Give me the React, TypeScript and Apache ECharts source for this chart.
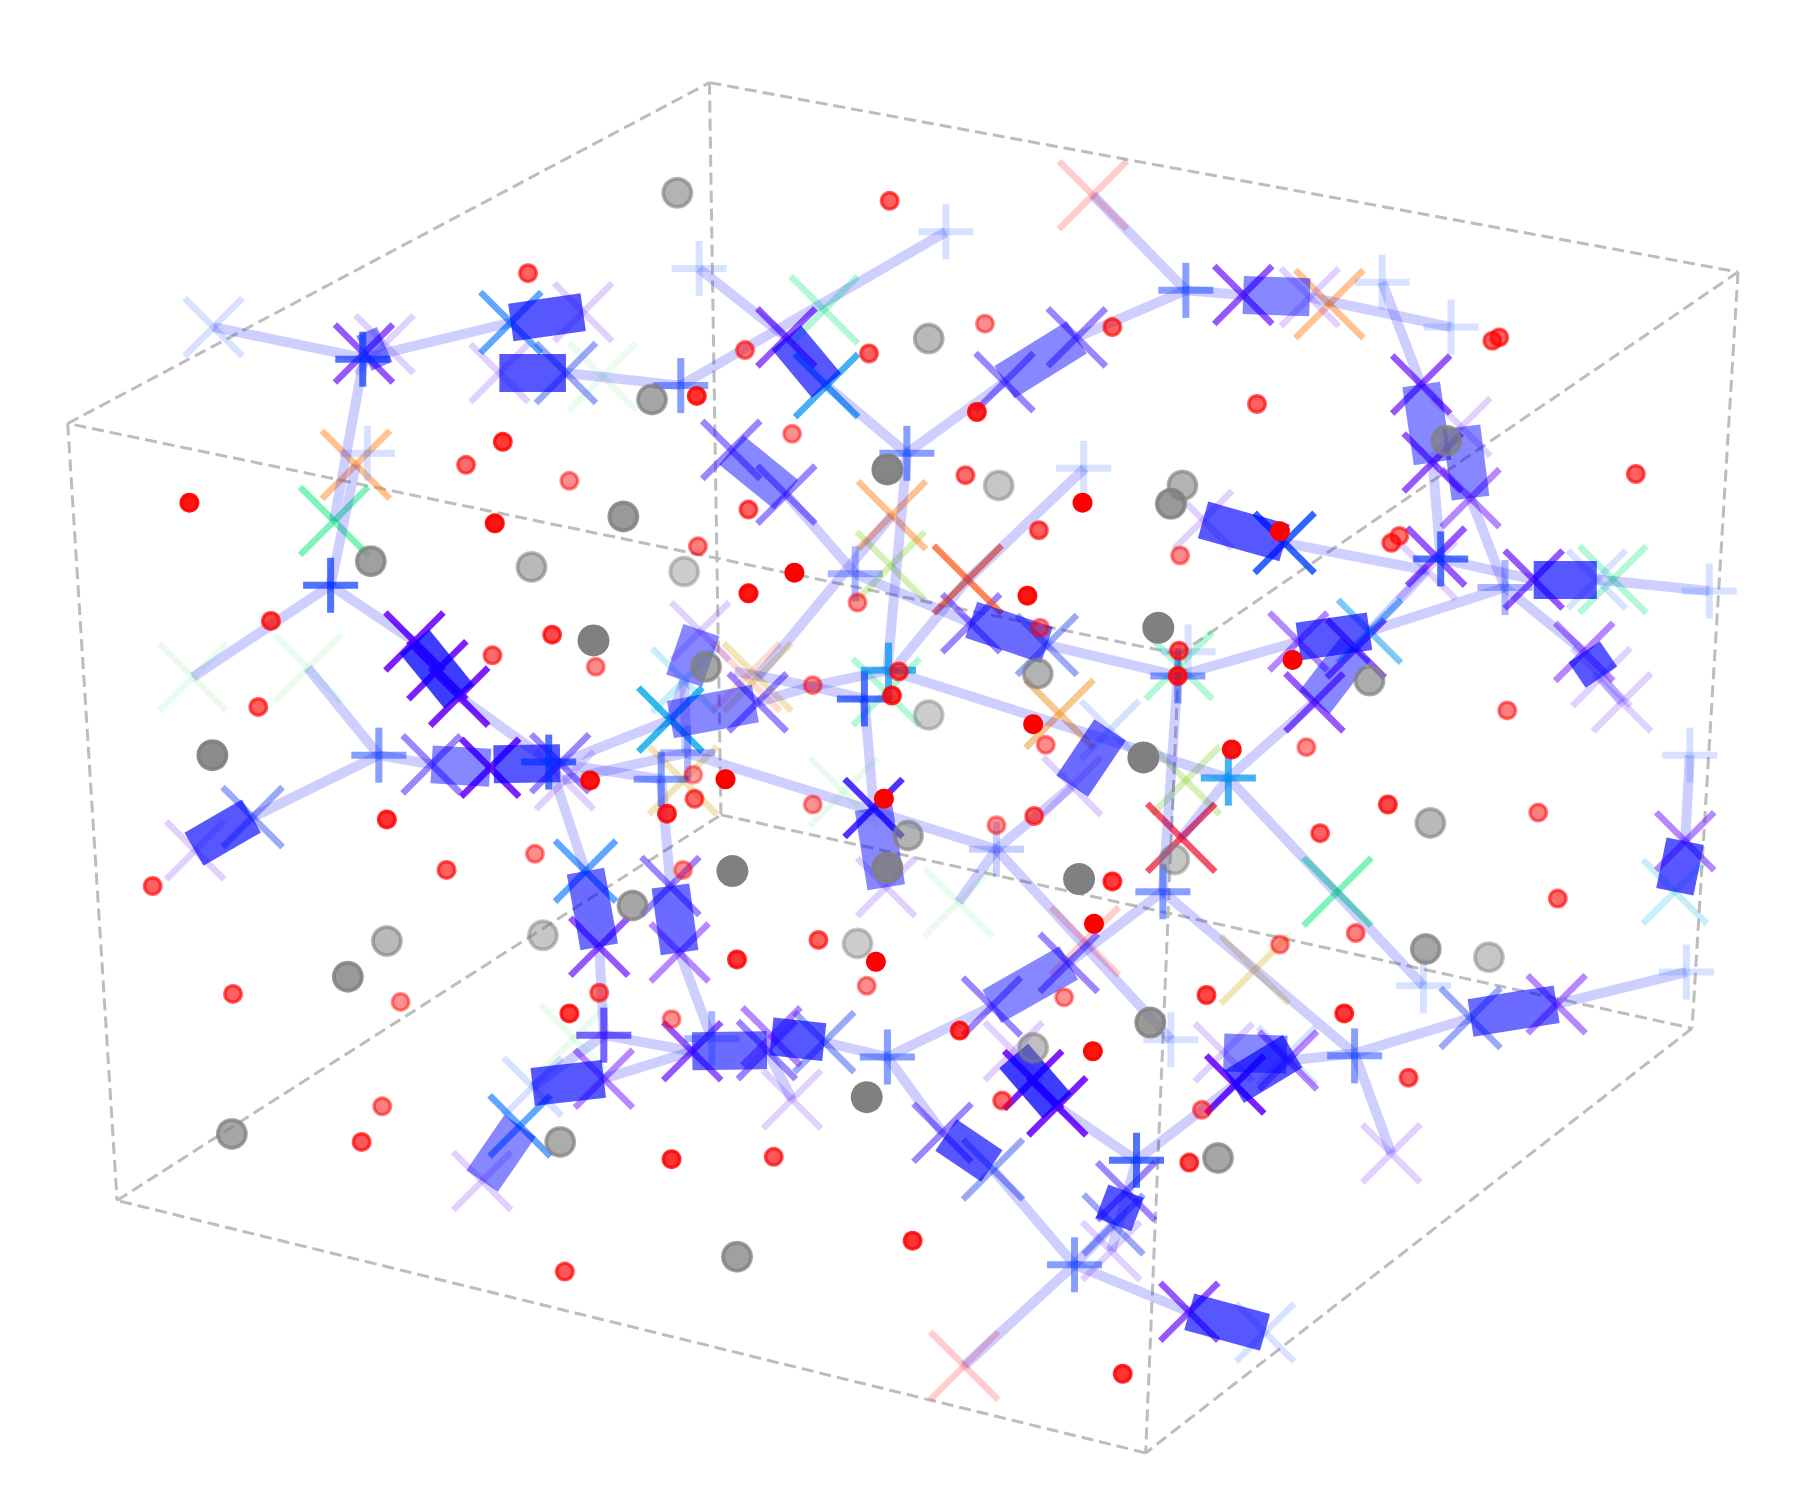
import React, { useEffect, useRef } from "react";
import * as echarts from "echarts";

type P = number[];

// Box edges
const boxCorners: Record<string, P> = { A: [59, 369], B: [618, 72], C: [1514, 237], D: [1027, 570], E: [102, 1046], F: [628, 710], G: [1474, 896], H: [998, 1266] };
const boxEdges = ["AB", "BC", "CD", "DA", "EF", "FG", "GH", "HE", "AE", "BF", "CG", "DH"];

// Thin links
const links: P[] = [
  [186,285,317,312],[317,312,445,281],[317,312,291,454],[310,405,288,510],[288,510,168,590],[288,510,361,559],[400,607,478,663],
  [268,582,330,658],[330,658,220,712],[330,658,376,666],[488,665,584,627],[478,663,510,759],[522,825,526,902],[526,902,603,916],
  [526,902,464,947],[526,940,603,916],[592,830,620,905],[584,772,576,679],[478,664,576,679],[490,680,598,656],[598,656,868,740],
  [493,325,593,336],[593,336,824,202],[609,234,685,294],[720,336,790,395],[790,395,875,333],[938,294,1033,253],[1033,253,1083,257],
  [952,170,1033,253],[1141,259,1264,285],[1204,246,1238,335],[1248,403,1255,487],[1281,434,1311,512],[1119,473,1243,497],[1255,487,1336,505],
  [1311,512,1380,568],[1395,590,1413,612],[1391,505,1489,515],[1311,512,1193,550],[1193,550,1243,497],[1131,559,1026,589],[1145,612,1070,678],
  [1070,678,1029,730],[1026,589,1013,777],[1070,678,1240,859],[912,562,1026,589],[846,543,745,500],[685,431,745,500],[790,395,773,584],
  [777,449,660,590],[945,408,843,505],[843,505,773,590],[774,584,707,598],[707,598,660,612],[753,609,707,598],[707,598,640,585],[753,609,761,704],[774,584,1070,678],
  [868,740,934,685],[868,740,835,786],[868,740,1020,906],[1013,777,931,839],[1013,777,1180,918],[864,877,773,921],[773,921,718,908],[773,921,821,987],
  [668,915,690,958],[865,1019,936,1102],[936,1102,1036,1143],[936,1102,840,1190],[921,964,990,1011],[990,1011,1076,945],[990,1011,968,1090],
  [970,1067,936,1102],[1122,924,1180,918],[1180,918,1281,887],[1180,918,1212,1005],[1356,875,1469,847],[1472,658,1468,733],[584,627,596,593],[598,656,596,593],
];

// Thick bonds, grouped by strength
const bondsStrong: P[] = [
  [445,281,508,272],[435,325,493,325],[685,294,720,336],[1048,453,1119,473],[1336,505,1391,505],[1131,559,1193,550],
  [1380,568,1395,590],[1468,733,1459,777],[1075,947,1126,916],[1036,1143,1102,1161],[981,1038,970,1067],[824,989,864,1016],[672,903,718,908],
  [464,947,526,940],[219,711,169,740],[430,666,488,665],
];
const bondsFair: P[] = [[846,540,912,562],[934,685,967,636],[510,759,522,825],[584,772,592,830],[603,916,668,915],[1356,875,1281,887]];
const bondsMedium: P[] = [
  [317,308,335,300],[637,392,685,431],[875,333,938,294],[1083,257,1141,259],[1238,335,1248,403],[1273,372,1281,434],[1181,565,1145,612],
  [1066,917,1121,919],[864,877,931,839],[453,981,420,1029],[376,666,427,669],[584,627,658,613],[611,549,596,593],[761,704,772,773],
];
const bondsDeep: P[] = [[361,559,400,607],[883,920,921,964]];

// X markers by colour group
const xVivid: P[] = [[361,559],[381,584],[400,607],[900,941],[921,964],[1076,945],[427,669]];
const xViolet: P[] = [[317,308],[685,294],[1083,257],[1238,335],[1248,403],[1251,485],[1181,565],[1145,612],[1336,505],[522,825],[1036,1143],[603,916]];
const xVioletSoft: P[] = [[1281,434],[1468,733],[1356,875],[1131,559],[1380,568],[526,940],[592,830],[672,903],[1122,924]];
const xIndigo: P[] = [[637,392],[685,431],[875,333],[938,294],[584,772],[660,612],[376,666],[488,665],[668,915],[931,839],[846,543],[864,877],[821,987],[981,1038]];
const xViolets2: P[] = [[761,704]];
const xPeri: P[] = [[493,325],[220,712],[912,562],[718,908],[865,1019],[1281,887],[970,1067]];
const xBlue: P[] = [[1119,473]];
const xSkyBlue: P[] = [[510,759],[453,981],[445,281]];
const xSky: P[] = [[720,336]];
const xSkySoft: P[] = [[1193,550]];
const xCyan: P[] = [[584,627]];
const xCyanPale: P[] = [[596,593],[1459,777]];
const xPaleBlue: P[] = [[186,285],[1102,1161],[967,636],[1121,920],[464,947],[1391,505]];
const xLavender: P[] = [[335,300],[508,272],[435,325],[170,741],[1141,259],[1273,372],[1048,453],[420,1029],[772,773],[934,685],[610,550],[1395,590],[1413,612],[690,958],[1212,1005],[1066,917],[492,680],[968,1090],[1243,497],[883,916]];
const xPaleGreen: P[] = [[168,590],[268,582],[525,328],[835,786],[735,690],[500,905]];
const xGreen: P[] = [[291,454],[1165,777]];
const xMint: P[] = [[718,270],[1405,505],[1027,580],[772,603]];
const xLime: P[] = [[776,493],[1033,680]];
const xOrange: P[] = [[310,405],[1158,265],[777,449]];
const xAmber: P[] = [[923,622]];
const xTan: P[] = [[1093,845],[660,590],[595,680]];
const xSalmon: P[] = [[650,590]];
const xRedOrange: P[] = [[843,505]];
const xRed: P[] = [[1029,730]];
const xPaleRed: P[] = [[952,170],[840,1190],[945,820]];

// Plus markers by colour group
const plusBlue: P[] = [[316,313],[288,510],[478,664],[753,609],[1255,487],[990,1011]];
const plusIndigo: P[] = [[526,902]];
const plusMid: P[] = [[593,336],[1033,253],[790,395],[1026,589],[330,658],[1013,777],[1180,920],[773,921],[936,1102],[576,679]];
const plusSoft: P[] = [[745,500],[1311,512],[599,656],[620,905]];
const plusSky: P[] = [[774,584],[1070,678]];
const plusFaint: P[] = [[868,740]];
const plusPale: P[] = [[320,395],[609,234],[824,202],[1204,246],[1264,285],[944,408],[1489,515],[1035,568],[1472,658],[1240,859],[1469,847],[1020,906]];

// Circles: x, y, fade
const redCircles: P[] = [
  [775,175,.62],[460,238,.62],[858,282,.45],[757,308,.62],[649,305,.55],[607,345,.8],[690,378,.45],[851,359,.85],[969,285,.62],[1095,352,.62],[1300,297,.62],[1306,294,.62],
  [1425,413,.62],[841,414,.58],[905,462,.62],[943,438,1],[1028,484,.45],[1115,463,1],[1212,473,.62],[1219,467,.55],[406,405,.58],[438,385,.78],[496,419,.45],[431,456,.92],
  [165,438,.92],[652,444,.62],[608,476,.5],[692,499,1],[652,517,.92],[747,525,.45],[895,519,.92],[906,547,.45],[236,541,.72],[481,553,.72],[519,581,.45],[429,571,.58],
  [225,616,.62],[777,606,.8],[783,585,.66],[708,597,.45],[1027,567,.66],[1026,589,.78],[1126,575,1],[900,631,1],[911,649,.45],[1073,653,.92],[1138,651,.45],[1313,619,.5],
  [514,680,.92],[632,679,1],[604,675,.38],[605,696,.58],[581,709,.8],[708,701,.43],[770,696,1],[868,719,.43],[901,711,.62],[337,714,.8],[133,772,.62],[389,758,.62],
  [466,744,.45],[595,758,.43],[969,768,.78],[953,805,1],[1150,726,.62],[1209,701,.72],[1340,708,.5],[1357,783,.58],[1181,813,.5],[1115,823,.45],[763,838,1],[713,819,.62],
  [642,836,.8],[755,859,.45],[203,866,.62],[349,873,.43],[522,865,.58],[496,883,.78],[585,888,.43],[836,898,.8],[927,869,.43],[1051,867,.72],[1171,883,.78],[952,916,.92],
  [1227,939,.62],[873,959,.58],[1047,967,.5],[1036,1013,.72],[333,964,.5],[315,995,.66],[585,1010,.8],[674,1008,.66],[795,1081,.8],[492,1108,.66],[978,1197,.8],
];
const grayCircles: P[] = [
  [590,168,.6],[809,295,.55],[568,348,.7],[773,409,.95],[870,423,.45],[1030,423,.6],[1020,439,.8],[1260,384,.7],[543,450,.8],[323,489,.75],[463,494,.55],[596,498,.4],
  [517,558,1],[1009,547,1],[615,581,.7],[904,587,.6],[809,623,.4],[1193,593,.65],[185,658,.9],[996,660,1],[1246,717,.55],[791,728,.6],[773,756,.85],[1023,749,.45],
  [638,759,1],[940,766,1],[551,789,.7],[337,820,.55],[473,815,.45],[747,822,.4],[303,851,.8],[1242,827,.7],[1297,834,.45],[1002,891,.8],[900,913,.5],[755,956,1],
  [202,988,.7],[488,995,.65],[1061,1009,.7],[642,1095,.75],
];

const xGroups: [P[], string, number, number][] = [
  [xPaleGreen, "#30e060", 0.1, 34], [xPaleRed, "#ff3030", 0.24, 34], [xTan, "#d8b020", 0.32, 34], [xSalmon, "#ff6030", 0.22, 34], [xAmber, "#f09020", 0.5, 34],
  [xLime, "#80d020", 0.32, 34], [xMint, "#00e878", 0.3, 33.5], [xGreen, "#00e878", 0.5, 34], [xOrange, "#ff7a10", 0.45, 34],
  [xLavender, "#8040ff", 0.24, 29], [xPaleBlue, "#3070ff", 0.2, 29], [xCyanPale, "#20c0f0", 0.25, 32],
  [xPeri, "#2040f0", 0.45, 30], [xIndigo, "#4a20ff", 0.55, 29], [xVioletSoft, "#7010ff", 0.5, 29], [xViolet, "#6a10ff", 0.7, 29],
  [xSkySoft, "#0090f0", 0.5, 31.5], [xSky, "#0090f0", 0.72, 31.5], [xSkyBlue, "#0070ff", 0.62, 30.5], [xCyan, "#00a8e8", 0.8, 32],
  [xBlue, "#0040ff", 0.8, 30], [xViolets2, "#3010ff", 0.85, 29], [xVivid, "#6a00ff", 0.88, 29],
  [xRedOrange, "#ff5010", 0.7, 34], [xRed, "#f01030", 0.72, 34],
];
const plusGroups: [P[], string, number][] = [
  [plusPale, "#3070ff", 0.2], [plusFaint, "#2040ff", 0.25], [plusSoft, "#2040ff", 0.38], [plusMid, "#1040ff", 0.5],
  [plusBlue, "#0030ff", 0.68], [plusIndigo, "#3010ff", 0.65], [plusSky, "#0090f0", 0.72],
];

function markerSeries(points: P[], color: string, opacity: number, half: number, isX: boolean, z: number) {
  return {
    type: "custom", coordinateSystem: "cartesian2d", z, silent: true, clip: false, data: points,
    renderItem: (_p: unknown, api: any) => {
      const [x, y] = api.coord([api.value(0), api.value(1)]);
      const segs = isX
        ? [[x - half, y - half, x + half, y + half], [x - half, y + half, x + half, y - half]]
        : [[x - half, y, x + half, y], [x, y - half, x, y + half]];
      return {
        type: "group",
        children: segs.map((s) => ({
          type: "line",
          shape: { x1: s[0], y1: s[1], x2: s[2], y2: s[3] },
          style: { stroke: color, lineWidth: isX ? 6.5 : 7, opacity, fill: null },
        })),
      };
    },
  };
}

function lineSeries(list: P[], color: string, width: number, z: number, type = "solid") {
  return {
    type: "lines", coordinateSystem: "cartesian2d", z, silent: true, clip: false,
    lineStyle: { color, width, type, opacity: 1, cap: "butt" },
    data: list.map((p) => ({ coords: [[p[0], p[1]], [p[2], p[3]]] })),
  };
}

function circleSeries(list: P[], rgb: string, disc: number, inner: number, outer: number, z: number) {
  return {
    type: "custom", coordinateSystem: "cartesian2d", z, silent: true, clip: false, data: list,
    renderItem: (_p: unknown, api: any) => {
      const [cx, cy] = api.coord([api.value(0), api.value(1)]);
      const fill = `rgba(${rgb},${api.value(2)})`;
      return {
        type: "group",
        children: [
          { type: "circle", shape: { cx, cy, r: disc }, style: { fill } },
          { type: "ring", shape: { cx, cy, r: outer, r0: inner }, style: { fill } },
        ],
      };
    },
  };
}

export default function App() {
  const ref = useRef<HTMLDivElement>(null);
  useEffect(() => {
    document.body.style.margin = "0";
    const chart = echarts.init(ref.current!, undefined, { renderer: "svg" });
    const edges = boxEdges.map((e) => [...boxCorners[e[0]], ...boxCorners[e[1]]]);
    chart.setOption({
      animation: false,
      backgroundColor: "#ffffff",
      grid: { left: 0, right: 0, top: 0, bottom: 0 },
      xAxis: { type: "value", min: 0, max: 1568, show: false },
      yAxis: { type: "value", min: 0, max: 1307, inverse: true, show: false },
      series: [
        lineSeries(edges, "#bdbdbd", 3, 1, "dashed"),
        ...xGroups.map(([pts, c, o, h]) => markerSeries(pts, c, o, h, true, 2)),
        lineSeries(links, "rgba(0,0,255,0.19)", 10, 3),
        lineSeries(bondsMedium, "rgba(0,0,255,0.47)", 38, 4),
        lineSeries(bondsFair, "rgba(0,0,255,0.58)", 38, 4),
        lineSeries(bondsStrong, "rgba(0,0,255,0.66)", 38, 4),
        lineSeries(bondsDeep, "rgba(0,0,255,0.76)", 38, 4),
        ...plusGroups.map(([pts, c, o]) => markerSeries(pts, c, o, 27.5, false, 5)),
        circleSeries(grayCircles, "128,128,128", 14.5, 12, 16, 6),
        circleSeries(redCircles, "255,0,0", 8.5, 6.5, 10, 7),
      ],
    });
    return () => chart.dispose();
  }, []);
  return <div ref={ref} style={{ position: "absolute", left: 0, top: 0, width: 1800, height: 1500 }} />;
}
